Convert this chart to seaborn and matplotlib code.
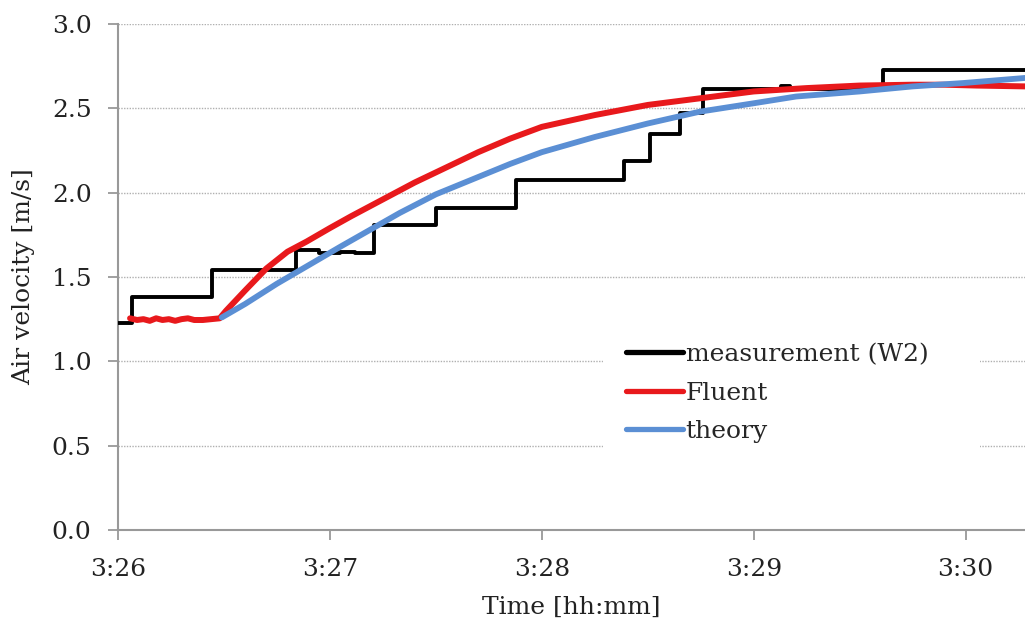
import matplotlib
matplotlib.use("Agg")
import matplotlib.pyplot as plt
import seaborn as sns
import pandas as pd

# time in minutes after 3:26
meas_t = [0.00, 0.065, 0.445, 0.84, 0.95, 1.05, 1.12, 1.21, 1.50, 1.88, 2.39, 2.51, 2.65,
          2.76, 3.13, 3.17, 3.61, 4.28]
meas_v = [1.23, 1.38, 1.54, 1.66, 1.64, 1.65, 1.64, 1.81, 1.91, 2.075, 2.19, 2.35, 2.47,
          2.615, 2.63, 2.615, 2.73, 2.73]

fluent_t = [0.057, 0.09, 0.12, 0.15, 0.18, 0.21, 0.24, 0.27, 0.30, 0.33, 0.36, 0.40, 0.44, 0.48,
            0.51, 0.60, 0.70, 0.80, 0.89, 1.00, 1.10, 1.25, 1.40, 1.55, 1.70, 1.85, 2.00,
            2.25, 2.50, 2.75, 3.00, 3.25, 3.50, 3.75, 3.90, 4.05, 4.28]
fluent_v = [1.255, 1.245, 1.25, 1.24, 1.255, 1.245, 1.25, 1.24, 1.25, 1.255, 1.245, 1.245, 1.25, 1.255,
            1.30, 1.42, 1.55, 1.65, 1.71, 1.79, 1.86, 1.96, 2.06, 2.15, 2.24, 2.32, 2.39,
            2.46, 2.52, 2.56, 2.60, 2.62, 2.635, 2.64, 2.64, 2.635, 2.63]

theory_t = [0.49, 0.60, 0.75, 0.90, 1.05, 1.33, 1.50, 1.85, 2.00, 2.25, 2.50, 2.745, 3.00,
            3.20, 3.50, 3.75, 3.99, 4.28]
theory_v = [1.26, 1.34, 1.46, 1.57, 1.68, 1.88, 1.99, 2.17, 2.24, 2.33, 2.41, 2.48, 2.53,
            2.57, 2.60, 2.63, 2.65, 2.68]

x_ticks = [0, 1, 2, 3, 4]
x_ticklabels = ["3:26", "3:27", "3:28", "3:29", "3:30"]
y_ticks = [0.0, 0.5, 1.0, 1.5, 2.0, 2.5, 3.0]

sns.set_theme(style="white")
plt.rcParams["font.family"] = ["DejaVu Serif"]

FS = 18
fig = plt.figure(figsize=(10.25, 6.23), dpi=100)
ax = fig.add_axes([0.1151, 0.1493, 0.8849, 0.8122])

df_m = pd.DataFrame({"t": meas_t, "v": meas_v})
df_f = pd.DataFrame({"t": fluent_t, "v": fluent_v})
df_th = pd.DataFrame({"t": theory_t, "v": theory_v})

sns.lineplot(data=df_m, x="t", y="v", ax=ax, color="black", lw=2.8,
             drawstyle="steps-post", label="measurement (W2)", zorder=3)
sns.lineplot(data=df_f, x="t", y="v", ax=ax, color="#e8191c", lw=4.3,
             label="Fluent", zorder=4)
sns.lineplot(data=df_th, x="t", y="v", ax=ax, color="#5b8fd4", lw=4.2,
             label="theory", zorder=5)

ax.set_xlim(0, 4.28)
ax.set_ylim(0, 3.0)
ax.set_xticks(x_ticks)
ax.set_xticklabels(x_ticklabels)
ax.set_yticks(y_ticks)
ax.set_yticklabels([f"{v:.1f}" for v in y_ticks])
ax.tick_params(axis="both", labelsize=FS, labelcolor="#222222", color="#999999",
               length=7, width=1.3, direction="out", bottom=True, left=True)
ax.tick_params(axis="y", pad=12)
ax.tick_params(axis="x", pad=13)

for y in y_ticks[1:]:
    ax.axhline(y, color="#b0b0b0", lw=1.0, ls=(0, (1, 1)), zorder=1)

for s in ["top", "right"]:
    ax.spines[s].set_visible(False)
for s in ["left", "bottom"]:
    ax.spines[s].set_color("#999999")
    ax.spines[s].set_linewidth(1.5)

ax.set_xlabel("Time [hh:mm]", fontsize=FS, labelpad=11, color="#222222")
ax.set_ylabel("Air velocity [m/s]", fontsize=FS, labelpad=12, color="#222222")

leg = ax.legend(loc="upper left", bbox_to_anchor=(0.535, 0.414, 0.415, 0.0),
                mode="expand", fontsize=FS,
                frameon=True, facecolor="white", edgecolor="none", framealpha=1,
                handlelength=2.3, handletextpad=0.1, labelspacing=0.62,
                borderpad=0.9, borderaxespad=0)
leg.set_zorder(10)
for line in leg.get_lines():
    line.set_linewidth(3.8)

fig.savefig("out.png", dpi=100, facecolor="white")
